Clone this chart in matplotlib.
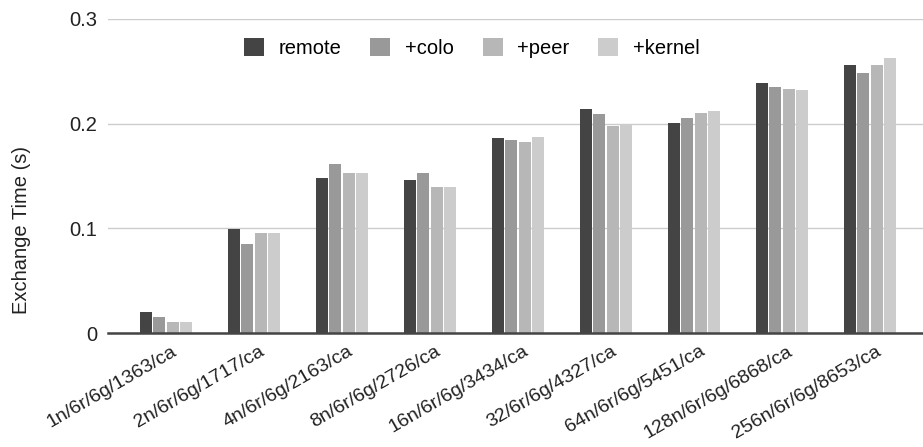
import numpy as np
import matplotlib as mpl
mpl.use('Agg')
import matplotlib.pyplot as plt
import matplotlib.transforms as mtransforms

plt.rcParams['font.family'] = ['Liberation Sans', 'DejaVu Sans']

configs = ['1n/6r/6g/1363/ca', '2n/6r/6g/1717/ca', '4n/6r/6g/2163/ca',
           '8n/6r/6g/2726/ca', '16n/6r/6g/3434/ca', '32/6r/6g/4327/ca',
           '64n/6r/6g/5451/ca', '128n/6r/6g/6868/ca', '256n/6r/6g/8653/ca']
remote = [0.0203, 0.099, 0.148, 0.1464, 0.186, 0.214, 0.2006, 0.2386, 0.2565]
colo = [0.0155, 0.0855, 0.161, 0.153, 0.1844, 0.209, 0.2057, 0.2351, 0.2485]
peer = [0.0105, 0.0957, 0.153, 0.1397, 0.1825, 0.1974, 0.2105, 0.2335, 0.2565]
kernel = [0.0105, 0.0957, 0.153, 0.1397, 0.1876, 0.1994, 0.2121, 0.2319, 0.2632]

series = [('remote', remote, '#444444'), ('+colo', colo, '#999999'),
          ('+peer', peer, '#b7b7b7'), ('+kernel', kernel, '#cccccc')]

fig = plt.figure(figsize=(9.23, 4.47), dpi=100)
ax = fig.add_axes([0.117, 0.255, 0.883, 0.7025])

x = np.arange(len(configs))
step = 0.153
width = 0.136
for i, (name, vals, col) in enumerate(series):
    ax.bar(x + (i - 1.5) * step, vals, width, color=col, label=name, zorder=3)

ax.set_ylim(0, 0.3)
ax.set_xlim(-0.66, 8.6)
ax.set_yticks([0, 0.1, 0.2, 0.3])
ax.set_yticklabels(['0', '0.1', '0.2', '0.3'])
ax.grid(axis='y', color='#cccccc', linewidth=1, zorder=0)
for s in ['top', 'right', 'left']:
    ax.spines[s].set_visible(False)
ax.spines['bottom'].set_color('#444444')
ax.spines['bottom'].set_linewidth(1.8)
ax.spines['bottom'].set_zorder(4)
ax.tick_params(axis='y', length=0, labelsize=14.5, colors='#222222', pad=8)
ax.tick_params(axis='x', length=0, labelsize=14, colors='#222222', pad=7)

ax.set_xticks(x)
ax.set_xticklabels(configs, rotation=30, ha='right', rotation_mode='anchor')
offset = mtransforms.ScaledTranslation(0.05, 0, fig.dpi_scale_trans)
for lbl in ax.get_xticklabels():
    lbl.set_transform(lbl.get_transform() + offset)

fig.text(22 / 923, 1 - 230 / 447, 'Exchange Time (s)', rotation=90,
         ha='center', va='center', fontsize=14.5, color='#222222')

ax.legend(loc='center', bbox_to_anchor=(0.511, 0.893), bbox_transform=fig.transFigure,
          ncol=4, frameon=False, fontsize=14.5, handlelength=1.0, handleheight=1.0,
          columnspacing=1.45, handletextpad=0.7)

fig.savefig('out.png', dpi=100)
